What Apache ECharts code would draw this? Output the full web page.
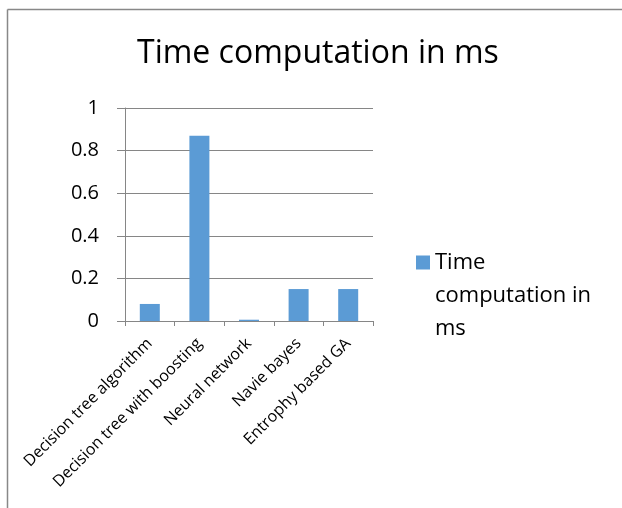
<!DOCTYPE html>
<html>
<head>
<meta charset="utf-8">
<script src="https://cdn.jsdelivr.net/npm/echarts@6/dist/echarts.min.js"></script>
<style>
html,body{margin:0;padding:0;background:#fff;}
#chart{width:622px;height:508px;}
</style>
</head>
<body>
<div id="chart"></div>
<script>
var titleText = "Time computation in ms";
var seriesName = "Time computation in ms";
var legendLines = ["Time", "computation in", "ms"];
var categories = ["Decision tree algorithm", "Decision tree with boosting", "Neural network", "Navie bayes", "Entrophy based GA"];
var values = [0.08, 0.87, 0.006, 0.15, 0.15];
var yTicks = [0, 0.2, 0.4, 0.6, 0.8, 1];

var FONT = "Open Sans";
var chart = echarts.init(document.getElementById('chart'), null, {renderer: 'canvas'});
chart.setOption({
  animation: false,
  backgroundColor: '#ffffff',
  title: {
    text: titleText,
    left: 137,
    top: 38,
    padding: 0,
    textStyle: {fontFamily: FONT, fontSize: 32, fontWeight: 'normal', color: '#000'}
  },
  legend: {
    left: 416,
    top: 180,
    padding: 0,
    itemWidth: 14,
    itemHeight: 14,
    icon: 'rect',
    data: [seriesName],
    formatter: function () { return '\n\n' + legendLines.join('\n'); },
    textStyle: {fontFamily: FONT, fontSize: 22, color: '#000', lineHeight: 33}
  },
  grid: {left: 125, top: 108, width: 248, height: 213, containLabel: false},
  xAxis: {
    type: 'category',
    data: categories,
    axisLine: {lineStyle: {color: '#868686', width: 1}},
    axisTick: {show: true, length: 5, lineStyle: {color: '#868686'}},
    axisLabel: {interval: 0, rotate: 45, margin: 20, fontFamily: FONT, fontSize: 16, color: '#000'}
  },
  yAxis: {
    type: 'value',
    min: yTicks[0],
    max: yTicks[yTicks.length - 1],
    interval: yTicks[1] - yTicks[0],
    axisLine: {show: true, lineStyle: {color: '#868686', width: 1}},
    axisTick: {show: true, length: 8, lineStyle: {color: '#868686'}},
    splitLine: {show: true, lineStyle: {color: '#868686', width: 1}},
    axisLabel: {margin: 26, fontFamily: FONT, fontSize: 20, color: '#000'}
  },
  series: [{
    name: seriesName,
    type: 'bar',
    data: values,
    barWidth: 20,
    itemStyle: {color: '#5B9BD5'}
  }],
  graphic: [
    {type: 'line', shape: {x1: 7.5, y1: 9.5, x2: 622, y2: 9.5}, style: {stroke: '#888888', lineWidth: 1.5}},
    {type: 'line', shape: {x1: 7.5, y1: 9.5, x2: 7.5, y2: 508}, style: {stroke: '#888888', lineWidth: 1.5}}
  ]
});
</script>
</body>
</html>
